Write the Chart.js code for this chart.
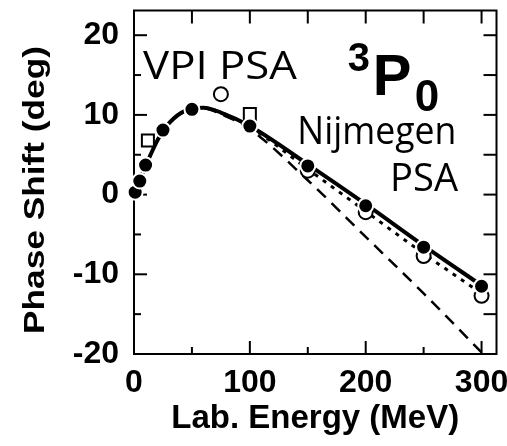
<!DOCTYPE html>
<html>
<head>
<meta charset="utf-8">
<script src="https://cdn.jsdelivr.net/npm/chart.js@4/dist/chart.umd.min.js"></script>
<style>
  html, body { margin: 0; background: #fff; }
</style>
</head>
<body>
<canvas id="phaseChart" width="507" height="446"></canvas>
<script>
// 3P0 phase shift vs lab energy
const curveEnergy = [0, 5, 10, 25, 50, 60, 75, 100, 150, 200, 250, 300];
const solidCurve  = [0, 1.8, 3.6, 8.0, 10.8, 10.9, 10.3, 8.6, 3.8, -1.2, -6.4, -11.4];
const dottedCurve = [0, 1.8, 3.6, 8.0, 10.8, 10.9, 10.3, 8.5, 3.2, -2.1, -7.4, -12.4];
const dashedCurve = [0, 1.8, 3.6, 8.0, 10.7, 10.8, 10.1, 8.2, 1.8, -5.3, -12.4, -19.8];

// Nijmegen PSA (filled) and VPI PSA (open)
const nijEnergy = [1, 5, 10, 25, 50, 100, 150, 200, 250, 300];
const nijPhase  = [0.3, 1.7, 3.7, 8.1, 10.7, 8.6, 3.6, -1.4, -6.6, -11.5];
const vpiEnergy = [12, 75, 100, 150, 200, 250, 300];
const vpiPhase  = [6.8, 12.6, 10.1, 3.0, -2.2, -7.7, -12.7];
const vpiStyle  = ['rect', 'circle', 'rect', 'circle', 'circle', 'circle', 'circle'];
const vpiSize   = [8.5, 7, 8.5, 7, 7, 7, 7];

const xTicks = [0, 100, 200, 300];
const xMinor = [50, 150, 250];
const yTicks = [-20, -10, 0, 10, 20];
const yMinor = [-15, -5, 5, 15];

const toXY = (xs, ys) => xs.map((x, i) => ({ x: x, y: ys[i] }));
const tickFont = { family: 'Liberation Sans, Arial, sans-serif', size: 32, weight: 'bold' };

// box frame with inward ticks on all four sides
const framePlugin = {
  id: 'frame',
  beforeDatasetsDraw(chart) {
    const { ctx, chartArea: a, scales: { x, y } } = chart;
    ctx.save();
    ctx.strokeStyle = '#000';
    ctx.lineWidth = 2;
    ctx.strokeRect(a.left, a.top, a.right - a.left, a.bottom - a.top);
    const seg = (x1, y1, x2, y2) => {
      ctx.beginPath(); ctx.moveTo(x1, y1); ctx.lineTo(x2, y2); ctx.stroke();
    };
    xTicks.forEach(v => {
      const px = x.getPixelForValue(v);
      seg(px, a.bottom, px, a.bottom - 13);
      seg(px, a.top, px, a.top + 13);
    });
    xMinor.forEach(v => {
      const px = x.getPixelForValue(v);
      seg(px, a.bottom, px, a.bottom - 7);
      seg(px, a.top, px, a.top + 13);
    });
    yTicks.forEach(v => {
      const py = y.getPixelForValue(v);
      seg(a.left, py, a.left + 13, py);
      seg(a.right, py, a.right - 13, py);
    });
    yMinor.forEach(v => {
      const py = y.getPixelForValue(v);
      seg(a.left, py, a.left + 7, py);
      seg(a.right, py, a.right - 13, py);
    });
    ctx.restore();
  }
};

function drawFitted(ctx, str, px, py, font, width) {
  ctx.font = font;
  const w = ctx.measureText(str).width;
  ctx.save();
  ctx.translate(px, py);
  ctx.scale(width / w, 1);
  ctx.fillText(str, 0, 0);
  ctx.restore();
}

// labels inside the plot and the rotated y title
const labelPlugin = {
  id: 'labels',
  afterDraw(chart) {
    const { ctx, scales: { x, y } } = chart;
    ctx.save();
    ctx.fillStyle = '#000';
    ctx.textAlign = 'left';
    ctx.textBaseline = 'alphabetic';
    const hand = '38px "Open Sans", "DejaVu Sans", sans-serif';
    drawFitted(ctx, 'VPI PSA', x.getPixelForValue(7.8), y.getPixelForValue(14.5), hand, 154);
    drawFitted(ctx, 'Nijmegen', x.getPixelForValue(141), y.getPixelForValue(6.3), hand, 159);
    drawFitted(ctx, 'PSA', x.getPixelForValue(221), y.getPixelForValue(0.4), hand, 68);

    // 3P0 with superscript and subscript
    const bx = x.getPixelForValue(184.5);
    const by = y.getPixelForValue(12.5);
    ctx.font = 'bold 40px Liberation Sans, Arial, sans-serif';
    ctx.fillText('3', bx, by - 24);
    ctx.font = 'bold 58px Liberation Sans, Arial, sans-serif';
    ctx.fillText('P', bx + 25, by);
    ctx.font = 'bold 44px Liberation Sans, Arial, sans-serif';
    ctx.fillText('0', bx + 67, by + 16);

    // y axis title
    ctx.save();
    ctx.translate(44, 190);
    ctx.rotate(-Math.PI / 2);
    ctx.textAlign = 'center';
    ctx.font = 'bold 30px Liberation Sans, Arial, sans-serif';
    const t = 'Phase Shift (deg)';
    const w = ctx.measureText(t).width;
    ctx.scale(288 / w, 1);
    ctx.fillText(t, 0, 0);
    ctx.restore();
    ctx.restore();
  }
};

new Chart(document.getElementById('phaseChart'), {
  type: 'scatter',
  data: {
    datasets: [
      {
        label: 'Nijmegen PSA',
        data: toXY(nijEnergy, nijPhase),
        pointRadius: 7.5,
        pointBackgroundColor: '#000',
        pointBorderColor: '#fff',
        pointBorderWidth: 2,
        showLine: false,
        order: 0
      },
      {
        label: 'VPI PSA',
        data: toXY(vpiEnergy, vpiPhase),
        pointStyle: vpiStyle,
        pointRadius: vpiSize,
        pointBackgroundColor: '#fff',
        pointBorderColor: '#000',
        pointBorderWidth: 2,
        showLine: false,
        order: 1
      },
      {
        label: 'solid',
        data: toXY(curveEnergy, solidCurve),
        showLine: true,
        borderColor: '#000',
        borderWidth: 4,
        pointRadius: 0,
        cubicInterpolationMode: 'monotone',
        order: 2
      },
      {
        label: 'dotted',
        data: toXY(curveEnergy, dottedCurve),
        showLine: true,
        borderColor: '#000',
        borderWidth: 3,
        borderDash: [4, 6],
        pointRadius: 0,
        cubicInterpolationMode: 'monotone',
        order: 3
      },
      {
        label: 'dashed',
        data: toXY(curveEnergy, dashedCurve),
        showLine: true,
        borderColor: '#000',
        borderWidth: 2.5,
        borderDash: [12, 8],
        pointRadius: 0,
        cubicInterpolationMode: 'monotone',
        order: 4
      }
    ]
  },
  options: {
    responsive: false,
    animation: false,
    clip: false,
    layout: { padding: { top: 7, right: 10, left: 0, bottom: 0 } },
    plugins: { legend: { display: false }, tooltip: { enabled: false } },
    scales: {
      x: {
        type: 'linear',
        min: 0,
        max: 312.9,
        grid: { display: false, drawTicks: false },
        border: { display: false },
        afterBuildTicks: s => { s.ticks = xTicks.map(v => ({ value: v })); },
        afterFit: s => { s.height = 92; s.paddingLeft = 0; s.paddingRight = 0; },
        ticks: { color: '#000', font: tickFont, padding: 10, maxRotation: 0 },
        title: {
          display: true,
          text: 'Lab. Energy (MeV)',
          color: '#000',
          font: { family: 'Liberation Sans, Arial, sans-serif', size: 33, weight: 'bold' },
          padding: { top: 0, bottom: 7 }
        }
      },
      y: {
        type: 'linear',
        min: -20,
        max: 23.1,
        grid: { display: false, drawTicks: false },
        border: { display: false },
        afterBuildTicks: s => { s.ticks = yTicks.map(v => ({ value: v })); },
        afterFit: s => { s.width = 134; s.paddingTop = 0; s.paddingBottom = 0; },
        ticks: { color: '#000', font: tickFont, padding: 15 }
      }
    }
  },
  plugins: [framePlugin, labelPlugin]
});
</script>
</body>
</html>
